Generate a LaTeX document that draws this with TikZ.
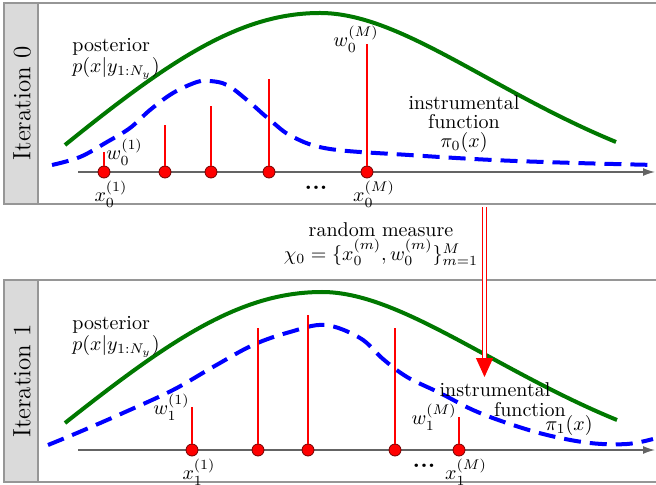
\documentclass[tikz,border=0pt]{standalone}
\usepackage{amsmath}
\usetikzlibrary{arrows.meta, positioning}
\definecolor{framegray}{RGB}{150,150,150}
\definecolor{tabgray}{RGB}{218,218,218}
\definecolor{postgreen}{RGB}{0,120,0}
\definecolor{axisgray}{RGB}{100,100,100}
\tikzset{
  panelbox/.style={draw=framegray, line width=0.8pt},
  tabbox/.style={draw=framegray, fill=tabgray, line width=0.8pt},
  tabtext/.style={rotate=90, font=\fontsize{12.5}{15}\selectfont},
  postcurve/.style={postgreen, line width=2pt},
  instrcurve/.style={blue, line width=2pt, dash pattern=on 8.5pt off 4.5pt},
  particle/.style={circle, draw=red!45!black, fill=red, inner sep=0pt, minimum size=6pt, line width=0.4pt},
  stem/.style={red, line width=0.7pt},
  axisline/.style={axisgray, line width=0.7pt, -{Latex[length=6pt,width=4pt]}},
  wlabel/.style={inner sep=1pt},
  xlabel/.style={inner sep=1pt, xshift=3.5pt}
}
\newcommand{\ellipsisdots}{{\large\textbf{...}}}

\begin{document}
\begin{tikzpicture}[x=0.5pt, y=-0.5pt, >=stealth]
  \useasboundingbox (0,0) rectangle (656,485);

  % ---- iteration 0 panel ----
  \draw[panelbox] (4,3) rectangle (658,204);
  \draw[tabbox] (4,3) rectangle (38,204);
  \node[tabtext] (it0) at (22,103.5) {Iteration 0};

  \draw[postcurve] (65,145) .. controls (170,60) and (240,13) .. (320,13)
                            .. controls (400,13) and (490,90) .. (616,142);
  \draw[instrcurve] plot[smooth, tension=0.6] coordinates {(52,165) (80,157) (107,142) (130,128) (150,110) (173,93) (197,82) (210,81) (227,85) (247,100) (270,120) (293,137) (330,149) (409,155) (493,160) (576,163) (656,165)};

  \coordinate (ax0s) at (78,172);
  \coordinate (ax0e) at (655,172);
  \draw[axisline] (ax0s) -- (ax0e);

  \foreach \x/\t [count=\i] in {104/152, 165/125, 211/106, 269/79, 367/44} {
    \node[particle] (x0\i) at (\x,172) {};
    \coordinate (w0\i) at (\x,\t);
    \draw[stem] (x0\i) -- (w0\i);
  }
  \node[wlabel, right] (lw01) at (w01) {$w_0^{(1)}$};
  \node[wlabel, xshift=-5.5pt, yshift=2.5pt] (lw05) at (w05) {$w_0^{(M)}$};
  \node[xlabel, below=0pt of x01] (lx01) {$x_0^{(1)}$};
  \node[xlabel, below=0pt of x05] (lx05) {$x_0^{(M)}$};
  \node (dots0) at (316,188) {\ellipsisdots};

  \node[anchor=north west, align=left, inner sep=0pt] (post0) at (72,38) {posterior\\[-1.5pt] $p(x|y_{1:N_y})$};
  \node[align=center, inner sep=0pt] (instr0) at (464,124) {instrumental\\[-2.5pt] function\\[-2.5pt] $\pi_0(x)$};

  % ---- random measure between the panels ----
  \node[align=center, inner sep=0pt] (meas) at (381,244) {random measure\\ $\chi_0=\{x_0^{(m)},w_0^{(m)}\}_{m=1}^{M}$};

  % ---- iteration 1 panel ----
  \draw[panelbox] (4,280) rectangle (658,482);
  \draw[tabbox] (4,280) rectangle (38,482);
  \node[tabtext] (it1) at (22,381) {Iteration 1};

  \draw[postcurve] (65,423) .. controls (170,340) and (240,292) .. (322,292)
                            .. controls (400,292) and (495,370) .. (617,420);
  \draw[instrcurve] plot[smooth, tension=0.6] coordinates {(48,445) (77,433) (123,413) (173,390) (213,367) (253,345) (290,332) (325,325) (360,338) (383,359) (407,377) (440,393) (473,410) (507,423) (547,435) (590,443) (627,444) (653,439)};

  \coordinate (ax1s) at (78,450);
  \coordinate (ax1e) at (655,450);
  \draw[axisline] (ax1s) -- (ax1e);

  \foreach \x/\t [count=\i] in {192/407, 258/328, 308/315, 395/328, 459/417} {
    \node[particle] (x1\i) at (\x,450) {};
    \coordinate (w1\i) at (\x,\t);
    \draw[stem] (x1\i) -- (w1\i);
  }
  \node[wlabel, left] (lw11) at (w11) {$w_1^{(1)}$};
  \node[wlabel, left] (lw15) at (w15) {$w_1^{(M)}$};
  \node[xlabel, below=0pt of x11] (lx11) {$x_1^{(1)}$};
  \node[xlabel, below=0pt of x15] (lx15) {$x_1^{(M)}$};
  \node (dots1) at (424,466) {\ellipsisdots};

  \node[anchor=north west, align=left, inner sep=0pt] (post1) at (72,316) {posterior\\[-1.5pt] $p(x|y_{1:N_y})$};
  \node (instr1a) at (495,390) {instrumental};
  \node (instr1b) at (530,410) {function};
  \node (instr1c) at (569,425) {$\pi_1(x)$};

  % ---- passing the measure on ----
  \coordinate (arrs) at (484.5,207);
  \coordinate (arre) at (484.5,377);
  \draw[red, double=white, double distance=1.2pt, line width=0.6pt, -{Triangle[length=9.5pt,width=8.5pt]}] (arrs) -- (arre);
\end{tikzpicture}
\end{document}
